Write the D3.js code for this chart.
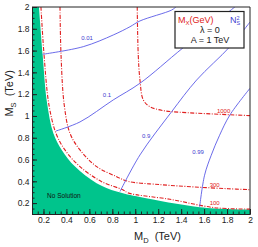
<!DOCTYPE html>
<html><head><meta charset="utf-8">
<script src="https://cdn.jsdelivr.net/npm/d3@7"></script>
<style>body{margin:0;background:#fff}svg{display:block}text{font-family:"Liberation Sans",Arial,sans-serif}</style>
</head><body><svg id="c" width="258" height="247"></svg>
<script>
// axis ticks
const xTicks=[0.2,0.4,0.6,0.8,1,1.2,1.4,1.6,1.8,2];
const yTicks=[0.2,0.4,0.6,0.8,1,1.2,1.4,1.6,1.8,2];
// excluded region boundary (M_D, M_S in TeV)
const noSolMD=[0.161,0.193,0.231,0.286,0.359,0.475,0.663,0.838,1.041,1.563,2.0];
const noSolMS=[2.0,1.56,1.12,0.841,0.688,0.535,0.383,0.306,0.255,0.162,0.14];
// M_X contours (GeV)
const mx100MD=[0.178,0.205,0.248,0.309,0.387,0.518,0.707,0.895,0.936,1.302,1.692,2.0];
const mx100MS=[2.0,1.56,1.10,0.841,0.688,0.535,0.397,0.321,0.294,0.235,0.158,0.145];
const mx300MD=[0.344,0.353,0.381,0.431,0.518,0.664,0.838,0.936,1.227,1.518,1.81,2.0];
const mx300MS=[2.0,1.56,1.10,0.841,0.688,0.535,0.443,0.40,0.369,0.348,0.332,0.323];
const mx1000MD=[1.017,1.026,1.041,1.07,1.128,1.244,1.389,1.679,2.0];
const mx1000MS=[2.0,1.56,1.33,1.147,1.085,1.049,1.034,1.018,1.003];
// N_S^2 contours
const ns001MD=[0.193,0.547,0.808,0.954,1.041,1.317,1.354];
const ns001MS=[1.566,1.636,1.743,1.819,1.872,1.972,2.0];
const ns01MD=[0.309,0.518,0.808,1.041,1.415,1.868];
const ns01MS=[0.862,0.945,1.147,1.30,1.624,2.0];
const ns09MD=[0.867,1.041,1.317,1.535,1.825,2.0];
const ns09MS=[0.306,0.642,1.039,1.330,1.636,1.862];
const ns099MD=[1.561,1.604,1.662,1.735,1.825,2.0];
const ns099MS=[0.165,0.456,0.639,0.823,1.009,1.254];
// contour labels [text, M_D, M_S]
const blueLabels=[["0.01",0.58,1.72],["0.1",0.754,1.19],["0.9",1.094,0.816],["0.99",1.547,0.669]];
const redLabels=[["1000",1.77,1.05],["300",1.692,0.369],["100",1.692,0.201]];

const svg=d3.select("#c");
const x=d3.scaleLinear().domain([0.1,2]).range([32,250]);
const y=d3.scaleLinear().domain([0.1,2]).range([214,7]);
const zip=(a,b)=>a.map((v,i)=>[v,b[i]]);
svg.append("defs").append("clipPath").attr("id","pc").append("rect")
  .attr("x",32).attr("y",7).attr("width",218).attr("height",207);
const g=svg.append("g").attr("clip-path","url(#pc)");
const line=d3.line().x(d=>x(d[0])).y(d=>y(d[1])).curve(d3.curveCatmullRom.alpha(0.5));

// green region
const bnd=zip(noSolMD,noSolMS);
g.append("path").attr("d",line(bnd)+"L"+x(2)+","+y(0.1)+"L"+x(0.1)+","+y(0.1)+"L"+x(0.1)+","+y(2)+"Z")
 .attr("fill","#00c48c").attr("stroke","none");

// red contours
[[mx100MD,mx100MS],[mx300MD,mx300MS],[mx1000MD,mx1000MS]].forEach(([a,b])=>{
  g.append("path").attr("d",line(zip(a,b))).attr("fill","none")
   .attr("stroke","#e02020").attr("stroke-width",1.1).attr("stroke-dasharray","4,1.5,1,1.5");
});
// blue contours
[[ns001MD,ns001MS],[ns01MD,ns01MS],[ns09MD,ns09MS],[ns099MD,ns099MS]].forEach(([a,b])=>{
  g.append("path").attr("d",line(zip(a,b))).attr("fill","none")
   .attr("stroke","#5a5ae6").attr("stroke-width",0.9);
});

// labels
blueLabels.forEach(([t,a,b])=>svg.append("text").attr("x",x(a)).attr("y",y(b)).attr("dy","0.35em")
  .attr("text-anchor","middle").attr("font-size",6).attr("fill","#4040d0").text(t));
redLabels.forEach(([t,a,b])=>svg.append("text").attr("x",x(a)).attr("y",y(b)).attr("dy","0.35em")
  .attr("text-anchor","middle").attr("font-size",6).attr("fill","#e02020").text(t));
svg.append("text").attr("x",x(0.378)).attr("y",y(0.265)).attr("dy","0.35em").attr("text-anchor","middle")
  .attr("font-size",6.5).attr("fill","#111").text("No Solution");

// axes
const minors=d3.range(0.1,2.0001,0.05).map(v=>+v.toFixed(2));
const fmt=d=>d3.format("~g")(d);
svg.append("g").attr("transform","translate(0,214)")
 .call(d3.axisBottom(x).tickValues(xTicks).tickFormat(fmt).tickSize(-5).tickSizeOuter(0).tickPadding(3));
svg.append("g").attr("transform","translate(0,214)")
 .call(d3.axisBottom(x).tickValues(minors).tickFormat("").tickSize(-2.5).tickSizeOuter(0));
svg.append("g").attr("transform","translate(32,0)")
 .call(d3.axisLeft(y).tickValues(yTicks).tickFormat(fmt).tickSize(-5).tickSizeOuter(0).tickPadding(2.5));
svg.append("g").attr("transform","translate(32,0)")
 .call(d3.axisLeft(y).tickValues(minors).tickFormat("").tickSize(-2.5).tickSizeOuter(0));
svg.selectAll(".tick text").attr("font-size",8.5).attr("fill","#222").attr("font-family","Liberation Sans,Arial");
svg.selectAll(".domain,.tick line").attr("stroke","#222");
// frame top/right
svg.append("path").attr("d","M32,7H250V214").attr("fill","none").attr("stroke","#222");

// axis titles
const xt=svg.append("text").attr("x",181).attr("y",240).attr("text-anchor","end").attr("font-size",11).attr("fill","#222");
xt.append("tspan").text("M");
xt.append("tspan").attr("font-size",7.5).attr("dy",2.5).text("D");
xt.append("tspan").attr("dy",-2.5).text("\u00a0\u00a0(TeV)");
const yt=svg.append("text").attr("transform","translate(13,70) rotate(-90)").attr("text-anchor","end").attr("font-size",11).attr("fill","#222");
yt.append("tspan").text("M");
yt.append("tspan").attr("font-size",7.5).attr("dy",2.5).text("S");
yt.append("tspan").attr("dy",-2.5).text("\u00a0\u00a0(TeV)");

// legend
svg.append("rect").attr("x",175).attr("y",11.5).attr("width",69).attr("height",36.5)
 .attr("fill","#fff").attr("stroke","#222").attr("stroke-width",1.2);
const l1=svg.append("text").attr("x",178).attr("y",23).attr("font-size",9).attr("fill","#e02020");
l1.append("tspan").text("M");
l1.append("tspan").attr("font-size",6).attr("dy",2).text("X");
l1.append("tspan").attr("dy",-2).text("(GeV)");
const l2=svg.append("text").attr("x",230).attr("y",23).attr("font-size",9).attr("fill","#4040d0");
l2.append("tspan").text("N");
l2.append("tspan").attr("font-size",5.5).attr("dy",-3.5).text("2");
l2.append("tspan").attr("font-size",5.5).attr("dx",-3.1).attr("dy",5.5).text("S");
svg.append("text").attr("x",210).attr("y",32.5).attr("text-anchor","middle").attr("font-size",9).attr("fill","#222").text("\u03bb = 0");
svg.append("text").attr("x",210).attr("y",42.5).attr("text-anchor","middle").attr("font-size",9).attr("fill","#222").text("A = 1 TeV");
</script></body></html>
